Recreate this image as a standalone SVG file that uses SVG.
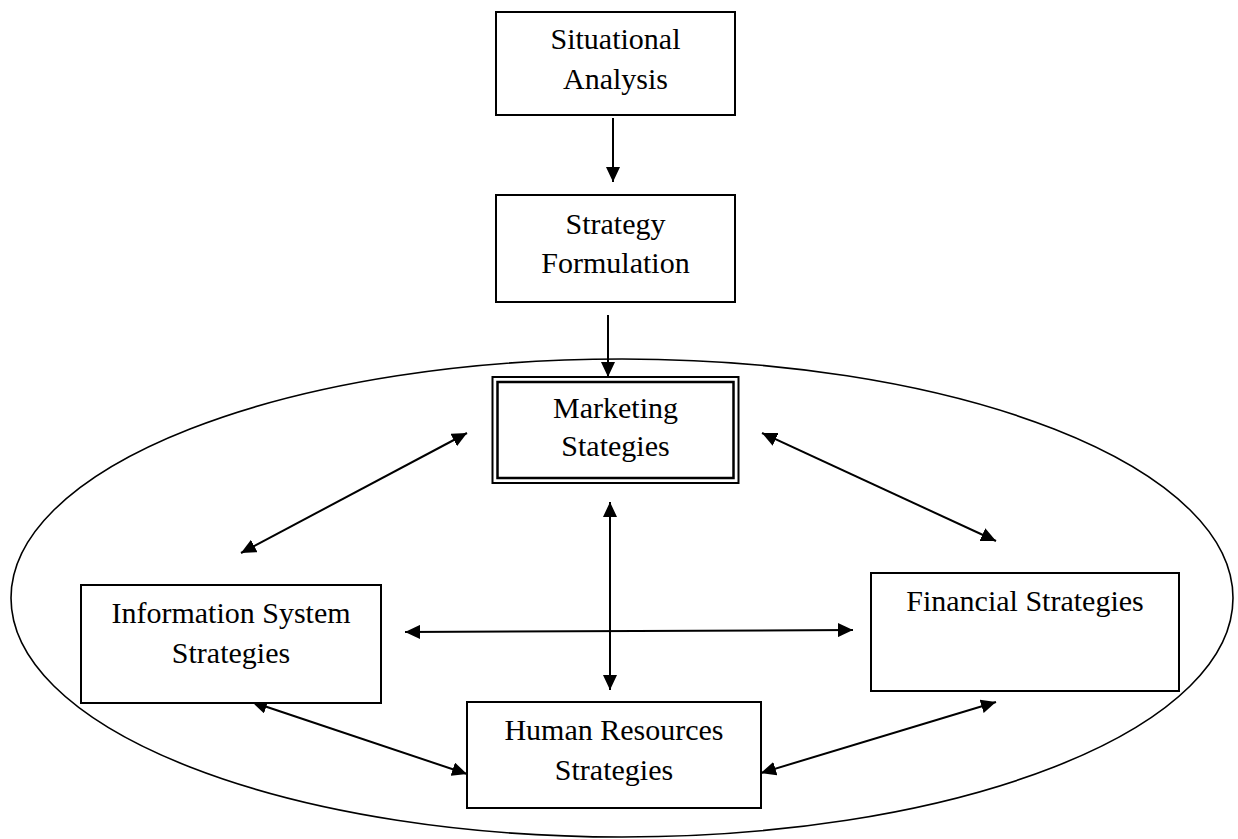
<svg xmlns="http://www.w3.org/2000/svg" width="1238" height="839" viewBox="0 0 1238 839">
<style>
.box{fill:#fff;stroke:#000;stroke-width:2}
.lbl{font-family:"Liberation Serif","Times New Roman",serif;font-size:30px;fill:#000;text-anchor:middle}
.conn{stroke:#000;stroke-width:2;fill:none}
</style>
<defs>
<marker id="ah" markerUnits="userSpaceOnUse" markerWidth="16" markerHeight="14" refX="15" refY="7" orient="auto-start-reverse">
<path d="M0,0 L15,7 L0,14 z" fill="#000"/>
</marker>
</defs>
<rect width="1238" height="839" fill="#fff"/>
<ellipse id="boundary" cx="622" cy="598" rx="611" ry="239" fill="none" stroke="#000" stroke-width="1.6"/>
<g id="connectors">
<line class="conn" x1="613" y1="118" x2="613" y2="182" marker-end="url(#ah)"/>
<line class="conn" x1="608" y1="315" x2="608" y2="377" marker-end="url(#ah)"/>
<line class="conn" x1="467" y1="433" x2="241" y2="553" marker-start="url(#ah)" marker-end="url(#ah)"/>
<line class="conn" x1="762" y1="433" x2="996" y2="541" marker-start="url(#ah)" marker-end="url(#ah)"/>
<line class="conn" x1="610" y1="502" x2="610" y2="690" marker-start="url(#ah)" marker-end="url(#ah)"/>
<line class="conn" x1="405" y1="632" x2="853" y2="630" marker-start="url(#ah)" marker-end="url(#ah)"/>
<line class="conn" x1="252" y1="702" x2="467" y2="774" marker-start="url(#ah)" marker-end="url(#ah)"/>
<line class="conn" x1="761" y1="773" x2="996" y2="702" marker-start="url(#ah)" marker-end="url(#ah)"/>
</g>
<g id="situational">
<rect class="box" x="496" y="12" width="239" height="103"/>
<text class="lbl" x="615.5" y="49">Situational</text>
<text class="lbl" x="615.5" y="89">Analysis</text>
</g>
<g id="strategy">
<rect class="box" x="496" y="195" width="239" height="107"/>
<text class="lbl" x="615.5" y="234">Strategy</text>
<text class="lbl" x="615.5" y="273">Formulation</text>
</g>
<g id="marketing">
<rect x="492.5" y="377" width="246" height="106" fill="#fff" stroke="#000" stroke-width="2"/>
<rect x="497.5" y="382" width="236" height="96" fill="none" stroke="#000" stroke-width="2.5"/>
<text class="lbl" x="615.5" y="418">Marketing</text>
<text class="lbl" x="615.5" y="456">Stategies</text>
</g>
<g id="infosys">
<rect class="box" x="81" y="585" width="300" height="118"/>
<text class="lbl" x="231" y="623">Information System</text>
<text class="lbl" x="231" y="663">Strategies</text>
</g>
<g id="financial">
<rect class="box" x="871" y="573" width="308" height="118"/>
<text class="lbl" x="1025" y="611">Financial Strategies</text>
</g>
<g id="hr">
<rect class="box" x="467" y="702" width="294" height="106"/>
<text class="lbl" x="614" y="740">Human Resources</text>
<text class="lbl" x="614" y="780">Strategies</text>
</g>
</svg>
